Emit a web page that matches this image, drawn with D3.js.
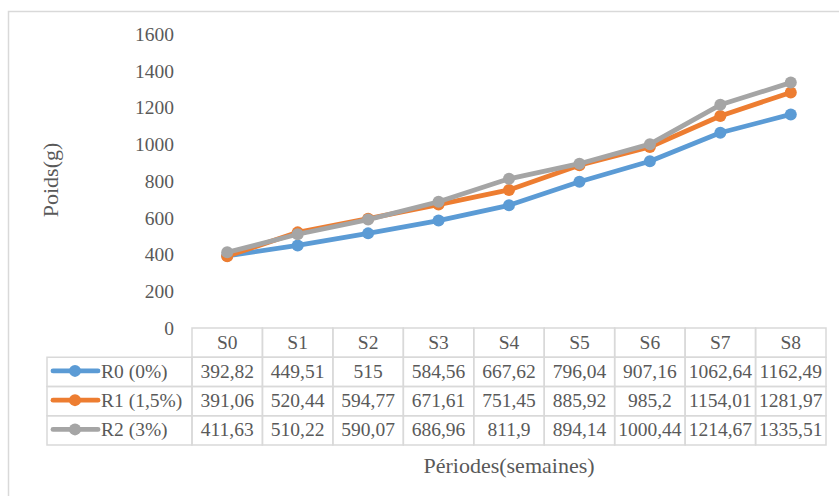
<!DOCTYPE html>
<html>
<head>
<meta charset="utf-8">
<script src="https://cdn.jsdelivr.net/npm/d3@7"></script>
<style>
body{margin:0;background:#fff;}
svg text{font-family:"Liberation Serif","Times New Roman",serif;fill:#595959;}
</style>
</head>
<body>
<div id="chart"></div>
<script>
// data
var periods = ["S0","S1","S2","S3","S4","S5","S6","S7","S8"];
var seriesNames = ["R0 (0%)","R1 (1,5%)","R2 (3%)"];
var r0 = [392.82,449.51,515,584.56,667.62,796.04,907.16,1062.64,1162.49];
var r1 = [391.06,520.44,594.77,671.61,751.45,885.92,985.2,1154.01,1281.97];
var r2 = [411.63,510.22,590.07,686.96,811.9,894.14,1000.44,1214.67,1335.51];
var colors = ["#5b9bd5","#ed7d31","#a5a5a5"];
var yTicks = [0,200,400,600,800,1000,1200,1400,1600];

var W = 839, H = 496;
var series = [r0,r1,r2].map(function(v,i){return {name:seriesNames[i],values:v,color:colors[i]};});

var svg = d3.select("#chart").append("svg")
	.attr("width",W).attr("height",H);

// outer chart border
svg.append("rect")
	.attr("x",8.5).attr("y",11.5)
	.attr("width",W+10).attr("height",H+10)
	.attr("fill","none").attr("stroke","#d9d9d9").attr("stroke-width",1.5);

var tableLeft = 47, colLeft = 192, colRight = 826;
var x = d3.scaleBand().domain(periods).range([colLeft,colRight]);
var y = d3.scaleLinear().domain([0,1600]).range([328,34]);
var rows = d3.scaleBand().domain(["head"].concat(seriesNames)).range([328,445]);

// y axis (labels only)
var ax = svg.append("g")
	.attr("transform","translate(176,0)")
	.call(d3.axisLeft(y).tickValues(yTicks).tickSize(0).tickPadding(2).tickFormat(d3.format("d")));
ax.select(".domain").remove();
ax.attr("font-family",null);
ax.selectAll("text")
	.style("font-size","19.5px").attr("fill","#595959");

svg.append("text")
	.attr("transform","translate(58,180) rotate(-90)")
	.attr("text-anchor","middle")
	.style("font-size","22px")
	.text("Poids(g)");

// lines
var cx = function(d,i){return x(periods[i])+x.bandwidth()/2;};
var line = d3.line()
	.x(cx)
	.y(function(d){return y(d);});

series.forEach(function(s){
	svg.append("path")
		.datum(s.values)
		.attr("d",line)
		.attr("fill","none")
		.attr("stroke",s.color)
		.attr("stroke-width",4.8)
		.attr("stroke-linejoin","round");
	svg.selectAll(null)
		.data(s.values)
		.enter().append("circle")
		.attr("cx",cx)
		.attr("cy",function(d){return y(d);})
		.attr("r",6)
		.attr("fill",s.color);
});

// data table
var grid = svg.append("g").attr("stroke","#d9d9d9").attr("stroke-width",1.5).attr("fill","none");
periods.forEach(function(p){
	grid.append("rect")
		.attr("x",x(p)).attr("y",rows("head"))
		.attr("width",x.bandwidth()).attr("height",rows.bandwidth());
});
series.forEach(function(s){
	grid.append("rect")
		.attr("x",tableLeft).attr("y",rows(s.name))
		.attr("width",colLeft-tableLeft).attr("height",rows.bandwidth());
	periods.forEach(function(p){
		grid.append("rect")
			.attr("x",x(p)).attr("y",rows(s.name))
			.attr("width",x.bandwidth()).attr("height",rows.bandwidth());
	});
});

var fmt = function(v){return String(v).replace(".",",");};

svg.selectAll(".head")
	.data(periods)
	.enter().append("text")
	.attr("x",function(d){return x(d)+x.bandwidth()/2;})
	.attr("y",rows("head")+rows.bandwidth()/2)
	.attr("dy","0.35em")
	.attr("text-anchor","middle")
	.style("font-size","19.5px")
	.text(function(d){return d;});

series.forEach(function(s){
	var cy = rows(s.name)+rows.bandwidth()/2 - 1;
	svg.append("line")
		.attr("x1",53).attr("x2",98).attr("y1",cy).attr("y2",cy)
		.attr("stroke",s.color).attr("stroke-width",4.8).attr("stroke-linecap","round");
	svg.append("circle").attr("cx",75).attr("cy",cy).attr("r",6).attr("fill",s.color);
	svg.append("text")
		.attr("x",101).attr("y",cy).attr("dy","0.35em")
		.style("font-size","19.5px")
		.text(s.name);
	svg.selectAll(null)
		.data(s.values)
		.enter().append("text")
		.attr("x",cx)
		.attr("y",cy).attr("dy","0.35em")
		.attr("text-anchor","middle")
		.style("font-size","19.5px")
		.text(fmt);
});

svg.append("text")
	.attr("x",(colLeft+colRight)/2).attr("y",465).attr("dy","0.35em")
	.attr("text-anchor","middle")
	.style("font-size","22px")
	.text("Périodes(semaines)");
</script>
</body>
</html>
